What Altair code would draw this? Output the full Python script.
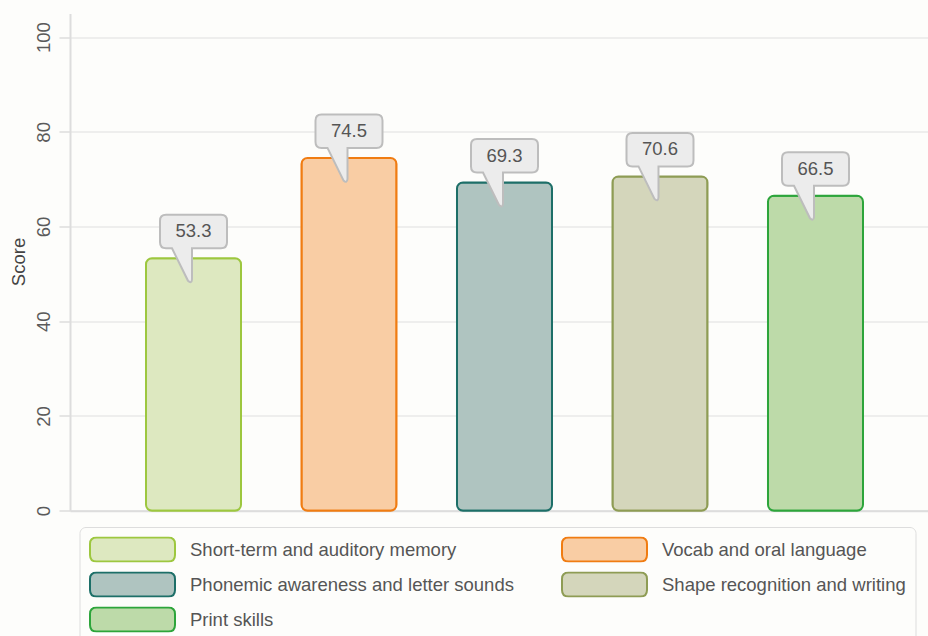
import altair as alt
import pandas as pd

# Early-learning assessment: mean score per skill area
categories = [
    "Short-term and auditory memory",
    "Vocab and oral language",
    "Phonemic awareness and letter sounds",
    "Shape recognition and writing",
    "Print skills",
]
scores = [53.3, 74.5, 69.3, 70.6, 66.5]
fill_colors = ["#dde8c0", "#f9cda4", "#afc4c0", "#d4d6bb", "#bddaa9"]
stroke_colors = ["#9dc73f", "#f07c12", "#1d6f68", "#8e9c54", "#2da53b"]
y_ticks = [0, 20, 40, 60, 80, 100]

df = pd.DataFrame({"skill": categories, "score": scores})

FONT = "Liberation Sans"

# Speech-bubble callout (box + pointer), anchored at the top centre of a bar
bubble_path = (
    "M -0.55 -0.87 L 0.55 -0.87 Q 0.67 -0.87 0.67 -0.75 "
    "L 0.67 -0.32 Q 0.67 -0.2 0.55 -0.2 "
    "L -0.03 -0.2 L -0.03 0.42 Q -0.04 0.52 -0.11 0.45 L -0.43 -0.2 "
    "L -0.55 -0.2 Q -0.67 -0.2 -0.67 -0.32 "
    "L -0.67 -0.75 Q -0.67 -0.87 -0.55 -0.87 Z"
)

# Rounded-rectangle swatch for the legend
swatch_path = (
    "M -0.847 -0.282 L 0.847 -0.282 Q 1 -0.282 1 -0.129 "
    "L 1 0.129 Q 1 0.282 0.847 0.282 L -0.847 0.282 "
    "Q -1 0.282 -1 0.129 L -1 -0.129 Q -1 -0.282 -0.847 -0.282 Z"
)

x_enc = alt.X(
    "skill:N",
    sort=categories,
    scale=alt.Scale(paddingInner=0.389, paddingOuter=0.4534, align=0.539),
    axis=alt.Axis(
        labels=False, ticks=False, title=None, grid=False,
        domainColor="#dddddd", domainWidth=2,
    ),
)

y_enc = alt.Y(
    "score:Q",
    scale=alt.Scale(domain=[0, 105], nice=False),
    axis=alt.Axis(
        values=y_ticks,
        title="Score",
        titleFont=FONT,
        titleFontSize=18.5,
        titleFontWeight="normal",
        titleColor="#444444",
        titleAngle=270,
        titleAlign="center",
        titleBaseline="alphabetic",
        titleX=-46,
        titleY=248,
        labelAngle=270,
        labelAlign="center",
        labelBaseline="alphabetic",
        labelFont=FONT,
        labelFontSize=18.5,
        labelColor="#5a5a5a",
        labelPadding=10,
        tickSize=11,
        tickColor="#dddddd",
        tickWidth=1.5,
        domainColor="#dddddd",
        domainWidth=2,
        gridColor="#e8e8e8",
        gridWidth=1.5,
    ),
)

legend = alt.Legend(
    title=None,
    orient="none",
    direction="horizontal",
    legendX=9.5,
    legendY=513.5,
    columns=2,
    columnPadding=47,
    rowPadding=9,
    clipHeight=26,
    padding=9.5,
    strokeColor="#dddddd",
    fillColor="#fdfdfb",
    cornerRadius=6,
    symbolType=swatch_path,
    symbolSize=7225,
    symbolStrokeWidth=2,
    symbolOpacity=1,
    labelFont=FONT,
    labelFontSize=18.5,
    labelColor="#555555",
    labelOffset=14,
    labelLimit=0,
)

bars = alt.Chart(df).mark_bar(strokeWidth=2, cornerRadius=6).encode(
    x=x_enc,
    y=y_enc,
    fill=alt.Fill(
        "skill:N",
        sort=categories,
        scale=alt.Scale(domain=categories, range=fill_colors),
        legend=legend,
    ),
    stroke=alt.Stroke(
        "skill:N",
        sort=categories,
        scale=alt.Scale(domain=categories, range=stroke_colors),
        legend=legend,
    ),
)

bubbles = alt.Chart(df).mark_point(
    shape=bubble_path,
    size=10000,
    filled=True,
    fill="#ececec",
    stroke="#bdbdbd",
    strokeWidth=2,
    opacity=1,
).encode(x=alt.X("skill:N", sort=categories), y="score:Q")

labels = alt.Chart(df).mark_text(
    dy=-27,
    font=FONT,
    fontSize=18.5,
    color="#555555",
    align="center",
    baseline="middle",
).encode(
    x=alt.X("skill:N", sort=categories),
    y="score:Q",
    text=alt.Text("score:Q", format=".1f"),
)

chart = (
    alt.layer(bars, bubbles, labels)
    .properties(
        width=858,
        height=497.2,
        autosize=alt.AutoSizeParams(type="none"),
        padding={"left": 70, "top": 13.5, "right": 0, "bottom": 125.3},
        background="#fdfdfb",
    )
    .configure_view(stroke=None)
)

chart.save("out.html", embed_options={"renderer": "svg", "actions": False})
